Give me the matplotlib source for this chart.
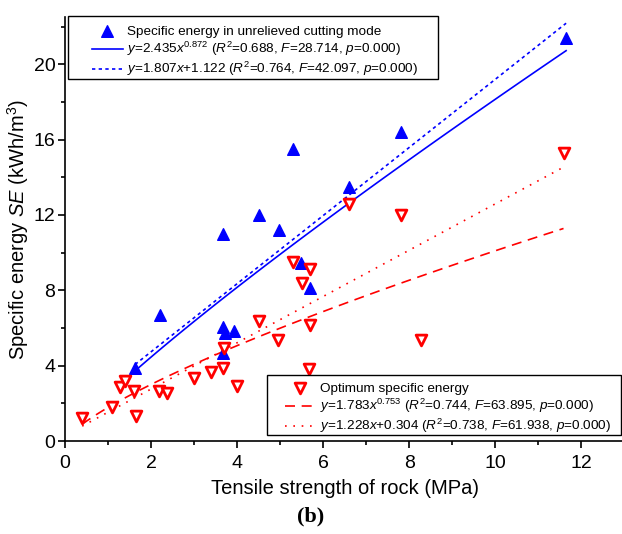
import numpy as np
import matplotlib.pyplot as plt
from matplotlib.patches import Rectangle
from matplotlib.ticker import MultipleLocator

plt.rcParams['font.family'] = 'Liberation Sans'
plt.rcParams['mathtext.fontset'] = 'custom'
plt.rcParams['mathtext.rm'] = 'Liberation Sans'
plt.rcParams['mathtext.it'] = 'Liberation Sans:italic'

# Specific energy in unrelieved cutting mode
ts_unrel = [1.63, 2.2, 3.67, 3.72, 3.93, 3.67, 3.67, 4.5, 4.97, 5.3, 5.48, 5.7, 6.6, 7.8, 11.65]
se_unrel = [3.9, 6.7, 6.05, 5.75, 5.85, 4.7, 11.0, 12.0, 11.2, 15.5, 9.45, 8.15, 13.5, 16.4, 21.4]

# Optimum specific energy
ts_opt = [0.4, 1.09, 1.29, 1.4, 1.6, 1.64, 2.19, 2.38, 2.99, 3.4, 3.68, 3.7, 4.0, 4.5,
          4.96, 5.29, 5.5, 5.7, 5.69, 5.67, 6.6, 7.8, 8.28, 11.59]
se_opt = [1.25, 1.8, 2.88, 3.2, 2.65, 1.33, 2.67, 2.53, 3.36, 3.64, 3.86, 4.95, 2.93, 6.36,
          5.34, 9.51, 8.37, 9.12, 6.15, 3.8, 12.56, 12.0, 5.36, 15.3]

# regression coefficients (a, b)
pow_unrel = (2.435, 0.872)
lin_unrel = (1.807, 1.122)
pow_opt = (1.783, 0.753)
lin_opt = (1.228, 0.304)

fig = plt.figure(figsize=(6.22, 5.34), dpi=100)
ax = fig.add_axes([0.1045, 0.174, 0.899, 0.794])

ax.scatter(ts_unrel, se_unrel, marker='^', s=70, color='blue', edgecolors='blue',
           zorder=3, label='Specific energy in unrelieved cutting mode')
xu = np.linspace(min(ts_unrel), max(ts_unrel), 100)
ax.plot(xu, pow_unrel[0] * xu ** pow_unrel[1], color='blue', lw=1.2,
        label='$y$=2.435$x^{0.872}$ ($R^2$=0.688, $F$=28.714, $p$=0.000)')
ax.plot(xu, lin_unrel[0] * xu + lin_unrel[1], color='blue', lw=1.2, ls=(0, (2, 2)),
        label='$y$=1.807$x$+1.122 ($R^2$=0.764, $F$=42.097, $p$=0.000)')

ax.scatter(ts_opt, se_opt, marker='v', s=60, facecolors='white', edgecolors='red',
           linewidths=2, zorder=4, label='Optimum specific energy')
xo = np.linspace(min(ts_opt), max(ts_opt), 100)
ax.plot(xo, pow_opt[0] * xo ** pow_opt[1], color='red', lw=1.2, ls=(0, (6, 4)),
        label='$y$=1.783$x^{0.753}$ ($R^2$=0.744, $F$=63.895, $p$=0.000)')
ax.plot(xo, lin_opt[0] * xo + lin_opt[1], color='red', lw=1.2, ls=(0, (1, 4)),
        label='$y$=1.228$x$+0.304 ($R^2$=0.738, $F$=61.938, $p$=0.000)')

ax.set_xlim(0, 13)
ax.set_ylim(0, 22.5)
ax.xaxis.set_major_locator(MultipleLocator(2))
ax.xaxis.set_minor_locator(MultipleLocator(1))
ax.yaxis.set_major_locator(MultipleLocator(4))
ax.yaxis.set_minor_locator(MultipleLocator(2))
ax.spines['top'].set_visible(False)
ax.spines['right'].set_visible(False)
ax.spines['left'].set_linewidth(1.2)
ax.spines['bottom'].set_linewidth(1.2)
ax.tick_params(which='major', direction='out', length=5, width=1.2, labelsize=14)
ax.tick_params(axis='x', which='major', pad=5)
ax.tick_params(axis='y', which='major', pad=2)
ax.tick_params(which='minor', direction='out', length=3, width=1.2)

ax.set_xlabel('Tensile strength of rock (MPa)', fontsize=14.5, labelpad=5)
ax.set_ylabel('Specific energy $SE$ (kWh/m$^3$)', fontsize=14.5, labelpad=2)

# legend frames (Origin-style boxes with wide side padding)
for x0, y0, x1, y1 in [(0.0054, 0.854, 0.667, 1.002), (0.361, 0.014, 0.995, 0.156)]:
    ax.add_patch(Rectangle((x0, y0), x1 - x0, y1 - y0, transform=ax.transAxes,
                           facecolor='white', edgecolor='black', lw=1.0,
                           zorder=5, clip_on=False))

h, lab = ax.get_legend_handles_labels()
leg_kw = dict(loc='upper left', fontsize=9.7, frameon=False, handlelength=2.3,
              handletextpad=0.3, labelspacing=0.15, borderpad=0, borderaxespad=0)
leg1 = ax.legend(h[:3], lab[:3], bbox_to_anchor=(0.048, 0.98), **leg_kw)
leg1.set_zorder(6)
ax.add_artist(leg1)
leg2 = ax.legend(h[3:], lab[3:], bbox_to_anchor=(0.393, 0.138), **leg_kw)
leg2.set_zorder(6)

fig.text(0.5, 0.033, '(b)', ha='center', va='center', fontsize=16,
         fontweight='bold', family='Liberation Serif')

fig.savefig('out.png', dpi=100)
